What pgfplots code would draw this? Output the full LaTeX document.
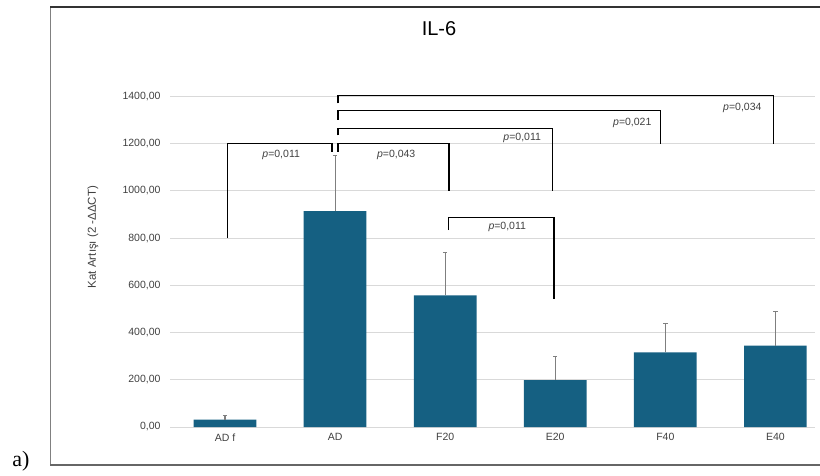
\documentclass[border=0pt]{standalone}
\usepackage{pgfplots}
\pgfplotsset{compat=1.18}
\usepackage{fontspec}
\setmainfont{Liberation Sans}
\newfontfamily\seriffont{Liberation Serif}
\definecolor{barblue}{HTML}{156082}
\definecolor{gridgray}{HTML}{D9D9D9}
\definecolor{errgray}{HTML}{7F7F7F}
\definecolor{ticktext}{HTML}{404040}

\newcommand{\pval}[1]{\textit{p}=#1}
\tikzset{bracket/.style={black, line width=1.3pt, no marks, sharp plot}}

\begin{document}
\begin{tikzpicture}[x=1pt,y=1pt]
\useasboundingbox (0,0) rectangle (820,475);
% outer frame
\draw[color=black!50, line width=1pt] (50,468) -- (50,10);
\draw[color=black!80, line width=1.1pt] (50,468) -- (822,468);
\draw[color=black!60, line width=1.5pt] (50,10) -- (822,10);
% panel tag
\node[font=\seriffont\fontsize{22}{24}\selectfont] at (21,14) {a)};
% title and y label
\node[font=\fontsize{20}{22}\selectfont] at (439,446) {IL-6};
\node[rotate=90, font=\fontsize{11.5}{13}\selectfont, text=ticktext] at (93,238) {Kat Artışı (2 -ΔΔCT)};

\begin{axis}[
  at={(170pt,48pt)}, anchor=south west,
  scale only axis,
  width=645pt, height=342.5pt,
  xmin=-0.5, xmax=5.36,
  ymin=0, ymax=1450,
  axis line style={draw=none},
  tick style={draw=none},
  ytick={0,200,...,1400},
  ymajorgrids,
  grid style={color=gridgray, line width=0.8pt},
  xtick={0,1,2,3,4,5},
  xticklabels={AD f, AD, F20, E20, F40, E40},
  /pgf/number format/assume math mode=true,
  yticklabel={\pgfmathprintnumber[fixed, fixed zerofill, precision=2, use comma, 1000 sep={}]{\tick}},
  ticklabel style={font=\fontsize{10.5}{12}\selectfont, text=ticktext},
  yticklabel style={xshift=-6pt},
  xticklabel style={yshift=-3pt},
  clip=false,
]
% group means with upward standard deviations
\addplot[ybar, bar width=0.57, fill=barblue, draw=none,
  error bars/.cd, y dir=plus, y explicit,
  error bar style={color=errgray, line width=1.1pt},
  error mark options={rotate=90, mark size=2.2pt, color=errgray, line width=1pt}]
  coordinates {
  (0,31)  +- (0,19)
  (1,914) +- (0,236)
  (2,557) +- (0,181)
  (3,198) +- (0,100)
  (4,316) +- (0,124)
  (5,345) +- (0,143)
};

% significance brackets
\addplot[bracket] coordinates {(0.02,800) (0.02,1200) (0.973,1200) (0.973,1165)};
\addplot[bracket] coordinates {(1.027,1165) (1.027,1200) (2.036,1200) (2.036,1000)};
\addplot[bracket] coordinates {(1.027,1235) (1.027,1263) (2.976,1263) (2.976,1000)};
\addplot[bracket] coordinates {(1.027,1300) (1.027,1341) (3.955,1341) (3.955,1200)};
\addplot[bracket] coordinates {(1.027,1370) (1.027,1404) (4.985,1404) (4.985,1200)};
\addplot[bracket] coordinates {(2.03,833) (2.03,887) (2.99,887) (2.99,544)};

\begin{scope}[every node/.style={font=\fontsize{10.5}{12}\selectfont, text=ticktext}]
\node at (axis cs:0.51,1150) {\pval{0,011}};
\node at (axis cs:1.555,1150) {\pval{0,043}};
\node at (axis cs:2.70,1223) {\pval{0,011}};
\node at (axis cs:3.70,1287) {\pval{0,021}};
\node at (axis cs:4.70,1350) {\pval{0,034}};
\node at (axis cs:2.564,847) {\pval{0,011}};
\end{scope}
\end{axis}
\end{tikzpicture}
\end{document}
